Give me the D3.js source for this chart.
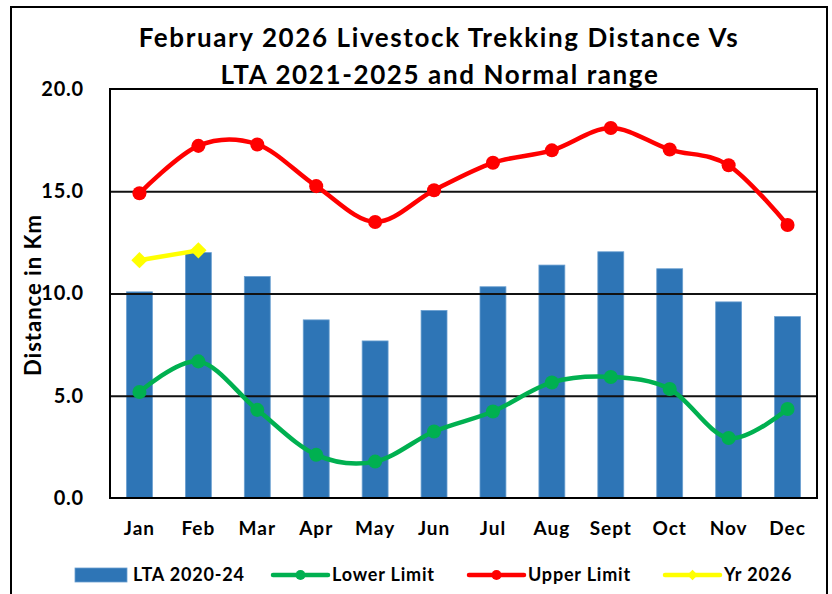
<!DOCTYPE html>
<html>
<head>
<meta charset="utf-8">
<title>Livestock Trekking Distance</title>
<script src="https://d3js.org/d3.v7.min.js"></script>
<style>
  body { margin: 0; background: #fff; }
  svg text { font-family: Lato, "Open Sans", sans-serif; font-weight: bold; fill: #000; }
</style>
</head>
<body>
<svg width="832" height="594"></svg>
<script>

// data
var months = ["Jan", "Feb", "Mar", "Apr", "May", "Jun", "Jul", "Aug", "Sept", "Oct", "Nov", "Dec"];
var lta = [10.08, 12.0, 10.83, 8.71, 7.68, 9.17, 10.33, 11.39, 12.04, 11.21, 9.59, 8.87];
var lowerLimit = [5.18, 6.68, 4.31, 2.11, 1.78, 3.25, 4.23, 5.65, 5.92, 5.33, 2.93, 4.35];
var upperLimit = [14.9, 17.22, 17.29, 15.25, 13.5, 15.05, 16.39, 17.0, 18.09, 17.04, 16.27, 13.35];
var yr2026 = [11.63, 12.11];
var yTicks = [0, 5, 10, 15, 20];
var legendNames = ["LTA 2020-24", "Lower Limit", "Upper Limit", "Yr 2026"];

var blue = "#2E75B6", green = "#00B050", red = "#FF0000", yellow = "#FFFF00";

var svg = d3.select("svg");
var plotLeft = 110, plotRight = 817, plotTop = 89, plotBottom = 498;

// outer chart frame
svg.append("rect")
    .attr("x", 11).attr("y", 7)
    .attr("width", 816).attr("height", 620)
    .attr("fill", "none").attr("stroke", "#000").attr("stroke-width", 2);

// title
var title = svg.append("text")
    .attr("text-anchor", "middle")
    .style("font-size", "26px")
    .style("letter-spacing", "1.6px");
title.append("tspan").attr("x", 439).attr("y", 47).text("February 2026 Livestock Trekking Distance Vs");
title.append("tspan").attr("x", 440).attr("y", 84).text("LTA 2021-2025 and Normal range");

var x = d3.scaleBand()
    .domain(months)
    .range([plotLeft, plotRight])
    .paddingInner(0.56)
    .paddingOuter(0.28);

var y = d3.scaleLinear()
    .domain([0, 20])
    .range([plotBottom, plotTop]);

function cx(i) { return x(months[i]) + x.bandwidth() / 2; }

// bars
svg.append("g")
  .selectAll("rect")
  .data(lta)
  .enter().append("rect")
    .attr("x", function(d, i) { return x(months[i]); })
    .attr("y", function(d) { return y(d); })
    .attr("width", x.bandwidth())
    .attr("height", function(d) { return y(0) - y(d); })
    .attr("fill", blue)
    .attr("stroke", "#6A9FD0")
    .attr("stroke-width", 0.8);

// gridlines (sit over the bars in the original)
svg.append("g")
    .attr("transform", "translate(" + plotLeft + ",0)")
    .call(d3.axisLeft(y).tickValues([5, 10, 15]).tickSize(-(plotRight - plotLeft)).tickFormat(""))
    .call(function(g) { g.select(".domain").remove(); })
    .selectAll("line")
      .attr("stroke", "#111")
      .attr("stroke-width", 2);

// plot frame
svg.append("rect")
    .attr("x", plotLeft).attr("y", plotTop)
    .attr("width", plotRight - plotLeft).attr("height", plotBottom - plotTop)
    .attr("fill", "none").attr("stroke", "#000").attr("stroke-width", 2);

// y axis
svg.append("g")
    .attr("transform", "translate(" + plotLeft + ",0)")
    .call(d3.axisLeft(y).tickValues(yTicks).tickSize(0).tickPadding(26).tickFormat(d3.format(".1f")))
    .call(function(g) { g.select(".domain").remove(); })
    .selectAll("text")
      .style("font-size", "20px")
      .style("letter-spacing", "0.8px")
      .style("font-family", "Lato, sans-serif")
      .style("font-weight", "bold");

// x axis
svg.append("g")
    .attr("transform", "translate(0," + plotBottom + ")")
    .call(d3.axisBottom(x).tickSize(0).tickPadding(24))
    .call(function(g) { g.select(".domain").remove(); })
    .selectAll("text")
      .style("font-size", "19px")
      .style("letter-spacing", "1px")
      .style("font-family", "Lato, sans-serif")
      .style("font-weight", "bold");

// y axis title
svg.append("text")
    .attr("transform", "translate(41,295) rotate(-90)")
    .attr("text-anchor", "middle")
    .style("font-size", "22px")
    .style("letter-spacing", "1px")
    .text("Distance in Km");

var smooth = d3.line()
    .x(function(d, i) { return cx(i); })
    .y(function(d) { return y(d); })
    .curve(d3.curveCatmullRom.alpha(0));

function drawSeries(values, color, marker) {
  var g = svg.append("g");
  g.append("path")
      .datum(values)
      .attr("d", smooth)
      .attr("fill", "none")
      .attr("stroke", color)
      .attr("stroke-width", 4.5)
      .attr("stroke-linejoin", "round");
  var m = g.selectAll(".m")
      .data(values)
      .enter().append("path")
      .attr("transform", function(d, i) { return "translate(" + cx(i) + "," + y(d) + ")"; })
      .attr("fill", color);
  if (marker === "diamond") {
    m.attr("d", d3.symbol().type(d3.symbolDiamond2).size(170));
  } else {
    m.attr("d", d3.symbol().type(d3.symbolCircle).size(155));
  }
}

drawSeries(lowerLimit, green, "circle");
drawSeries(upperLimit, red, "circle");
drawSeries(yr2026, yellow, "diamond");

// legend
var legendColors = [blue, green, red, yellow];
var legendX = [75, 273, 469, 665];
var legendY = 575;

var legend = svg.append("g")
  .selectAll("g")
  .data(legendNames)
  .enter().append("g")
    .attr("transform", function(d, i) { return "translate(" + legendX[i] + "," + legendY + ")"; });

legend.each(function(d, i) {
  var g = d3.select(this);
  if (i === 0) {
    g.append("rect")
        .attr("x", 0).attr("y", -7)
        .attr("width", 52).attr("height", 14)
        .attr("fill", blue).attr("stroke", "#6A9FD0").attr("stroke-width", 0.8);
  } else {
    g.append("line")
        .attr("x1", 0).attr("x2", 55)
        .attr("y1", 0).attr("y2", 0)
        .attr("stroke", legendColors[i])
        .attr("stroke-width", 4.5)
        .attr("stroke-linecap", "round");
    g.append("path")
        .attr("transform", "translate(27.5,0)")
        .attr("d", d3.symbol().type(i === 3 ? d3.symbolDiamond2 : d3.symbolCircle).size(i === 3 ? 70 : 80))
        .attr("fill", legendColors[i]);
  }
  g.append("text")
      .attr("x", i === 0 ? 58 : 59)
      .attr("y", 0)
      .attr("dy", "0.35em")
      .style("font-size", "18px")
      .style("letter-spacing", "0.8px")
      .text(d);
});

</script>
</body>
</html>
